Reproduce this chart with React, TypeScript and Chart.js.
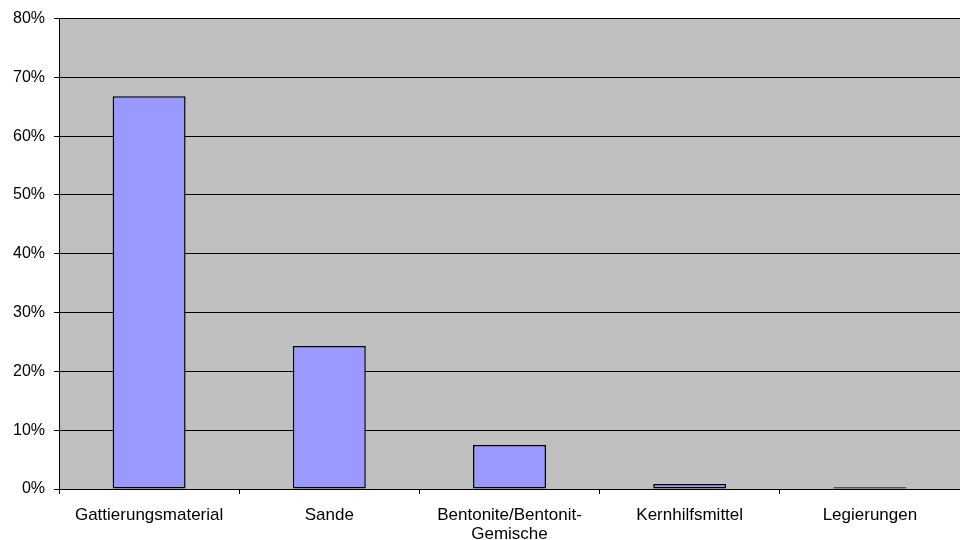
import React, { useEffect, useRef } from "react";
import { Chart, registerables } from "chart.js";

Chart.register(...registerables);

const categories: (string | string[])[] = [
  "Gattierungsmaterial",
  "Sande",
  ["Bentonite/Bentonit-", "Gemische"],
  "Kernhilfsmittel",
  "Legierungen",
];
const shares: number[] = [66.8, 24.3, 7.5, 0.85, 0.3];
const yMin = 0;
const yMax = 80;
const yStep = 10;

const YFONT = { family: "'Liberation Sans', Arial, sans-serif", size: 16 };
const XFONT = { family: "'Liberation Sans', Arial, sans-serif", size: 17, lineHeight: 1.118 };

const plotBg = {
  id: "plotBg",
  beforeDraw(chart: any) {
    const { ctx, chartArea } = chart;
    if (!chartArea) return;
    ctx.save();
    ctx.fillStyle = "#C0C0C0";
    ctx.fillRect(chartArea.left, chartArea.top, chartArea.right - chartArea.left, chartArea.bottom - chartArea.top);
    ctx.restore();
  },
};

export default function App() {
  const ref = useRef<HTMLCanvasElement | null>(null);
  useEffect(() => {
    if (!ref.current) return;
    const chart = new Chart(ref.current, {
      type: "bar",
      data: {
        labels: categories,
        datasets: [
          {
            data: shares,
            backgroundColor: "#9999FF",
            borderColor: "#000000",
            borderWidth: 1.5,
            borderSkipped: false,
            categoryPercentage: 1,
            barPercentage: 0.405,
          },
        ],
      },
      options: {
        responsive: false,
        animation: false,
        layout: { padding: { top: 18, left: 0, right: 0, bottom: 0 } },
        plugins: { legend: { display: false }, tooltip: { enabled: false } },
        scales: {
          x: {
            grid: {
              display: true,
              drawOnChartArea: false,
              drawTicks: true,
              offset: true,
              tickLength: 5,
              color: "#000000",
            },
            border: { display: true, color: "#000000", width: 1 },
            ticks: { color: "#000000", font: XFONT, padding: 12, maxRotation: 0, autoSkip: false },
            afterFit: (scale: any) => {
              scale.height = 51;
            },
          },
          y: {
            min: yMin,
            max: yMax,
            ticks: {
              stepSize: yStep,
              color: "#000000",
              font: YFONT,
              padding: 9,
              callback: (v: any) => v + "%",
            },
            grid: { color: "#000000", tickLength: 5, drawTicks: true },
            border: { display: true, color: "#000000", width: 1 },
            afterFit: (scale: any) => {
              scale.width = 59;
            },
          },
        },
      },
      plugins: [plotBg],
    });
    return () => chart.destroy();
  }, []);
  return (
    <div style={{ position: "absolute", left: 0, top: 0, width: 960, height: 540, background: "#fff" }}>
      <canvas ref={ref} width={960} height={540} />
    </div>
  );
}
